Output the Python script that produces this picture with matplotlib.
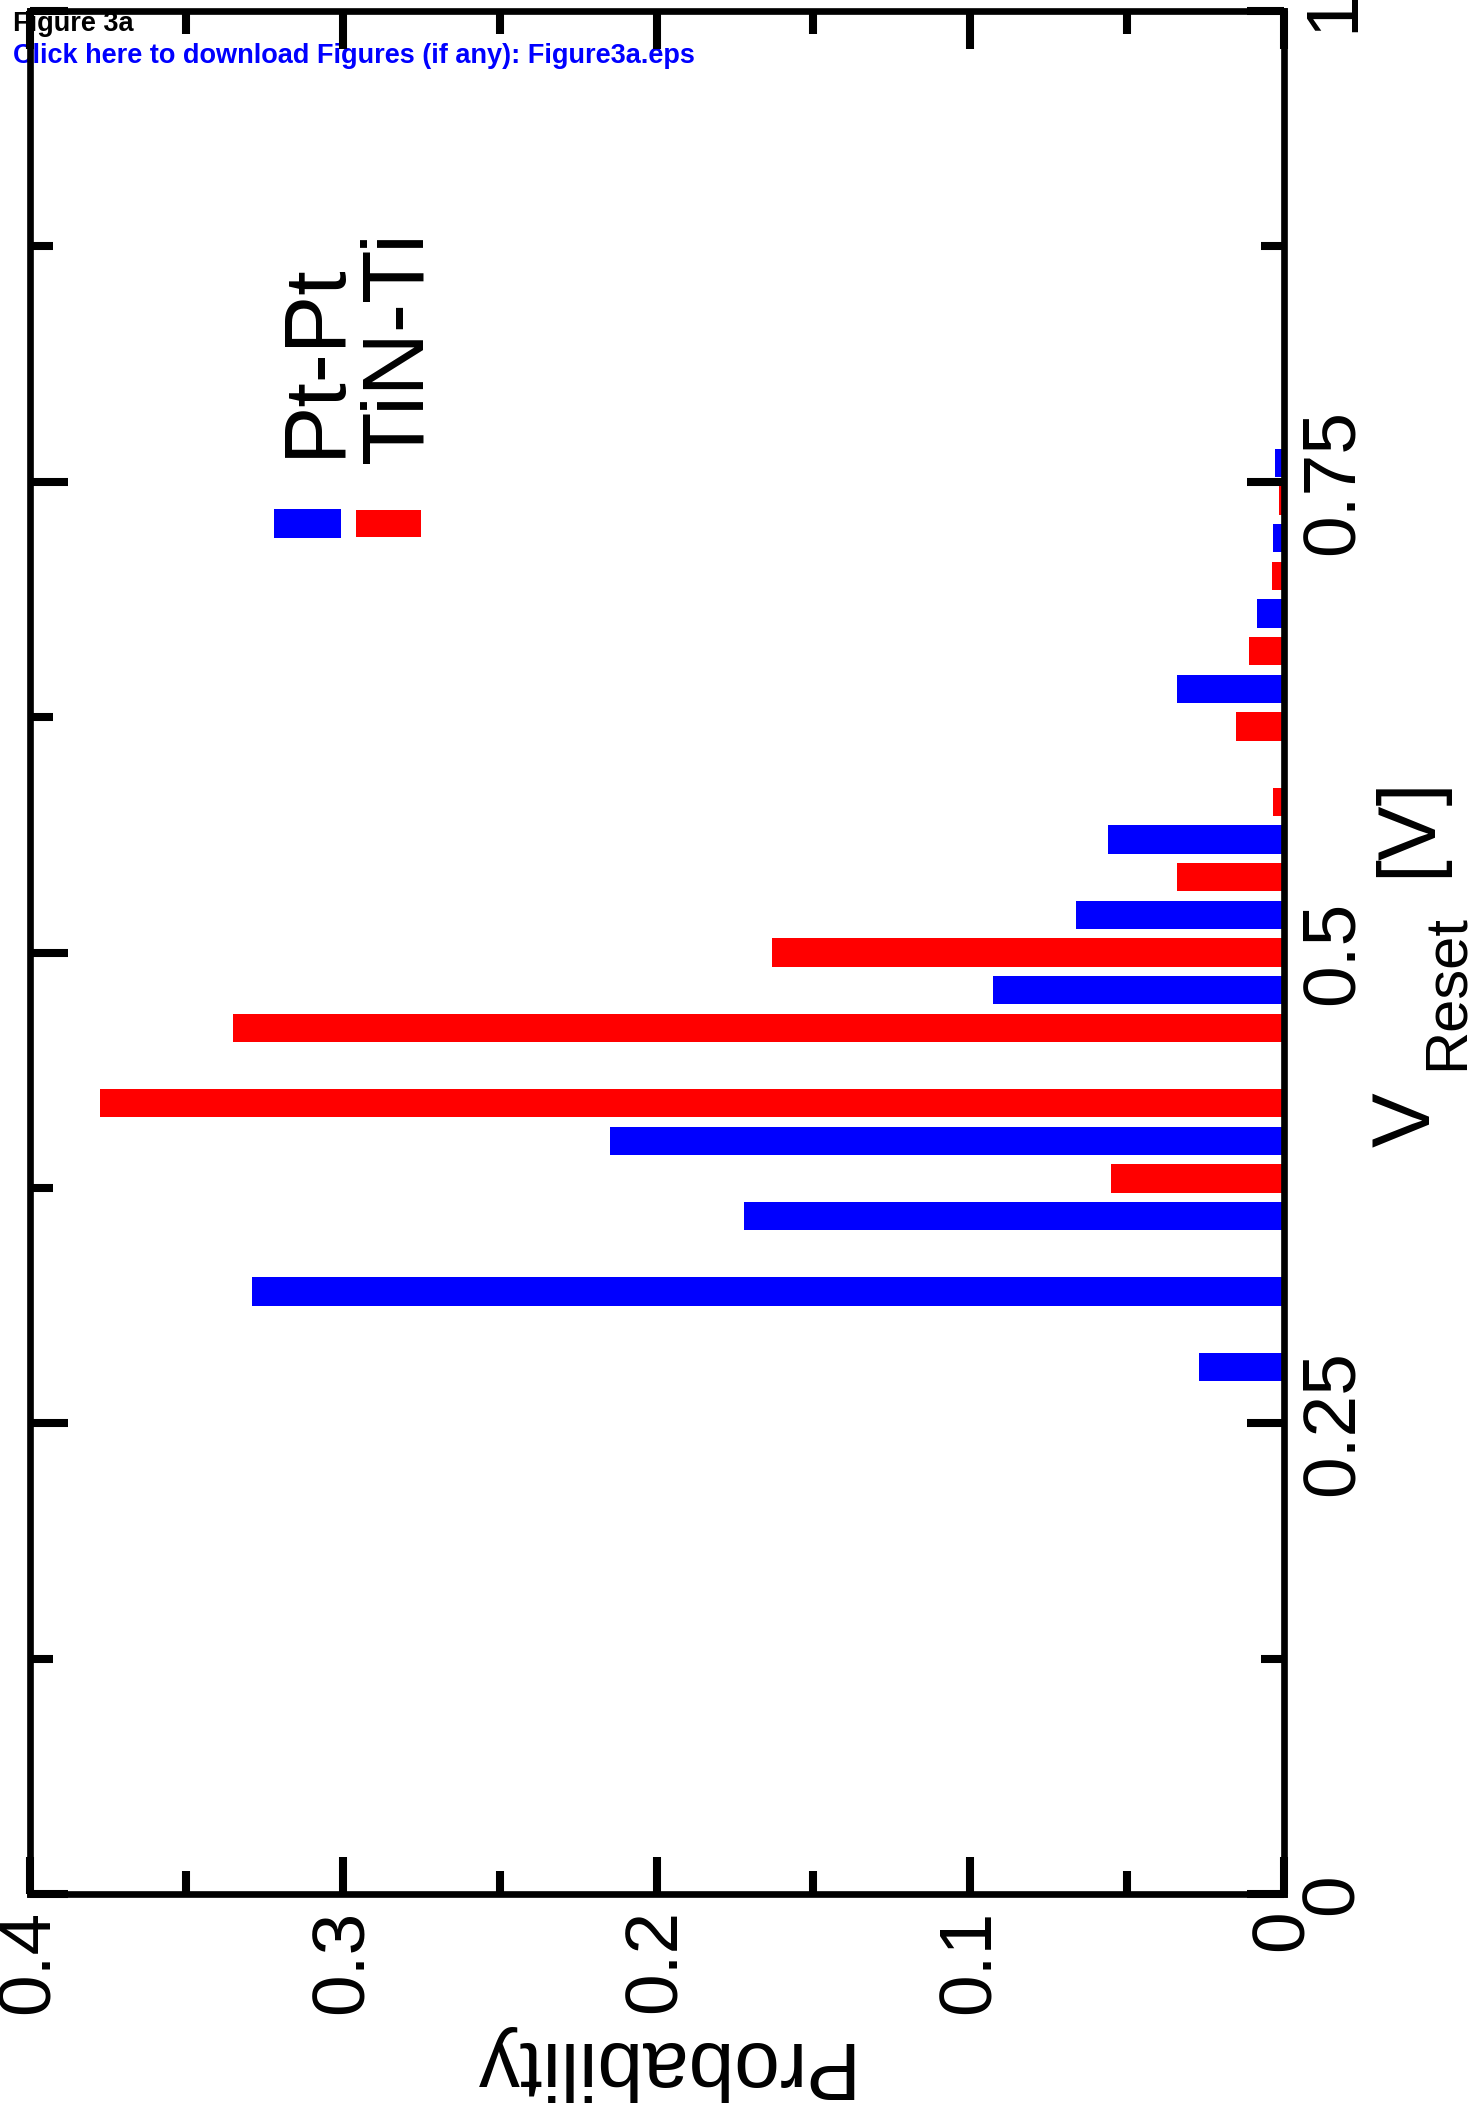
import matplotlib
matplotlib.use('Agg')
import matplotlib.pyplot as plt
from matplotlib.patches import Rectangle
from matplotlib.ticker import MultipleLocator

plt.rcParams['font.family'] = ['Liberation Sans', 'DejaVu Sans']

# ---- data ----
v_ptpt = [0.28, 0.32, 0.36, 0.40, 0.48, 0.52, 0.56, 0.64, 0.68, 0.72, 0.76]
p_ptpt = [0.0268, 0.329, 0.172, 0.2148, 0.0928, 0.0663, 0.056, 0.034, 0.0085, 0.0032, 0.0028]
v_tinti = [0.38, 0.42, 0.46, 0.50, 0.54, 0.58, 0.62, 0.66, 0.70, 0.74]
p_tinti = [0.0551, 0.3776, 0.335, 0.163, 0.034, 0.0034, 0.015, 0.011, 0.0036, 0.0015]

series_labels = ['Pt-Pt', 'TiN-Ti']
series_colors = ['#0000ff', '#ff0000']
v_ticks = [0, 0.25, 0.5, 0.75, 1]
v_ticklabels = ['0', '0.25', '0.5', '0.75', '1']
p_ticks = [0, 0.1, 0.2, 0.3, 0.4]
p_ticklabels = ['0', '0.1', '0.2', '0.3', '0.4']

W, H = 1477, 2112
fig = plt.figure(figsize=(W / 100, H / 100), dpi=100)


def fx(px):
    return px / W


def fy(py):
    return 1 - py / H


ax = fig.add_axes([fx(29.5), fy(1894), fx(1283.5) - fx(29.5), fy(11) - fy(1894)])
ax.set_facecolor('none')

ax.barh(v_ptpt, p_ptpt, height=0.015, color=series_colors[0], linewidth=0, zorder=2)
ax.barh(v_tinti, p_tinti, height=0.015, color=series_colors[1], linewidth=0, zorder=2)

ax.set_xlim(0.4, 0)
ax.set_ylim(0, 1)
ax.set_yticks(v_ticks)
ax.set_yticklabels(v_ticklabels)
ax.set_xticks(p_ticks)
ax.set_xticklabels(p_ticklabels)
ax.yaxis.set_minor_locator(MultipleLocator(0.125))
ax.xaxis.set_minor_locator(MultipleLocator(0.05))

ax.tick_params(which='both', direction='in', top=True, bottom=True, left=True,
               right=True, width=5.8, color='black')
ax.tick_params(which='major', length=27)
ax.tick_params(which='minor', length=16.5)
ax.tick_params(axis='y', labelleft=False, labelright=True, labelsize=54, pad=11,
               labelrotation=90)
ax.tick_params(axis='x', labelsize=54, pad=11, labelrotation=90)
for lab in ax.get_yticklabels():
    lab.set_va('center')
for s in ax.spines.values():
    s.set_linewidth(4.8)

ax.set_xlabel('Probability', fontsize=59, rotation=180, labelpad=8)

# axis title for V_Reset (rotated, on the right)
kw = dict(rotation=90, rotation_mode='anchor', ha='left', va='baseline', color='black')
fig.text(fx(1430), fy(1147), 'V', fontsize=59, **kw)
fig.text(fx(1463), fy(1070), 'Reset', fontsize=43, **kw)
fig.text(fx(1430), fy(877), '[V]', fontsize=59, **kw)

# legend (rotated)
fig.add_artist(Rectangle((fx(274), fy(538)), fx(341) - fx(274), fy(509) - fy(538),
                         transform=fig.transFigure, facecolor=series_colors[0],
                         edgecolor='none'))
fig.add_artist(Rectangle((fx(356), fy(537)), fx(421) - fx(356), fy(510) - fy(537),
                         transform=fig.transFigure, facecolor=series_colors[1],
                         edgecolor='none'))
fig.text(fx(339), fy(457), series_labels[0], fontsize=63, **kw)
fig.text(fx(421), fy(463), series_labels[1], fontsize=63, **kw)

# header overlay
fig.text(fx(13), fy(31), 'Figure 3a', fontsize=19.5, fontweight='bold',
         color='black', ha='left', va='baseline', zorder=-1)
fig.text(fx(13), fy(63), 'Click here to download Figures (if any): Figure3a.eps',
         fontsize=19.5, fontweight='bold', color='#0000ff', ha='left',
         va='baseline', zorder=-1)

fig.savefig('out.png', dpi=100)
